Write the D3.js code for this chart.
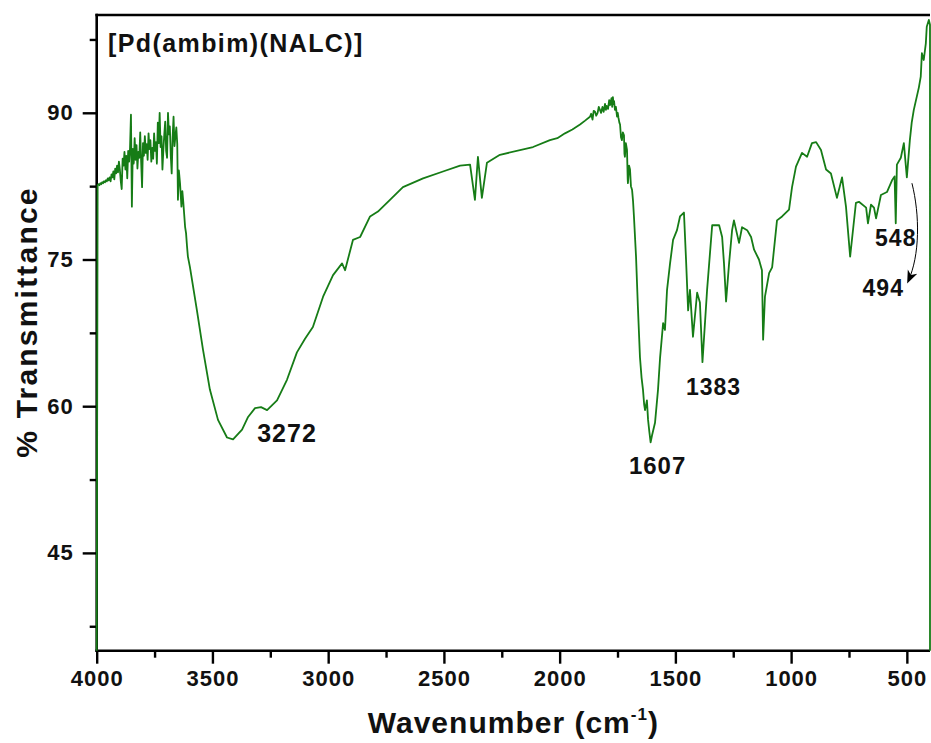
<!DOCTYPE html>
<html>
<head>
<meta charset="utf-8">
<script src="https://cdn.jsdelivr.net/npm/d3@7"></script>
<style>
  body { margin: 0; background: #fff; }
  svg { display: block; }
  text { font-family: "Liberation Sans", Arial, sans-serif; font-weight: bold; fill: #111; }
</style>
</head>
<body>
<svg id="chart" width="931" height="743"></svg>
<script>
// FT-IR spectrum of [Pd(ambim)(NALC)]: wavenumber (cm-1) vs % transmittance
const wavenumber = [
  4000, 3996, 3992, 3988, 3984, 3980, 3976, 3972, 3968, 3964, 3960, 3956, 3952, 3948, 3944, 3940,
  3936, 3932, 3928, 3924, 3920, 3916, 3912, 3908, 3904, 3900, 3896, 3892, 3888, 3884, 3880, 3876,
  3872, 3868, 3864, 3860, 3856, 3852, 3848, 3844, 3840, 3836, 3832, 3828, 3824, 3820, 3816, 3812,
  3808, 3804, 3800, 3796, 3792, 3788, 3784, 3780, 3776, 3772, 3768, 3764, 3760, 3756, 3752, 3748,
  3744, 3740, 3736, 3732, 3728, 3724, 3720, 3716, 3712, 3708, 3704, 3700, 3696, 3692, 3688, 3684,
  3680, 3676, 3672, 3668, 3664, 3660, 3656, 3652, 3649, 3645, 3640, 3634, 3630, 3626, 3622, 3618,
  3614, 3610, 3606, 3602, 3597, 3567, 3541, 3511, 3476, 3437, 3411, 3372, 3346, 3316, 3290, 3264,
  3221, 3178, 3135, 3100, 3066, 3022, 2979, 2940, 2927, 2893, 2862, 2819, 2785, 2733, 2677, 2590,
  2504, 2430, 2387, 2366, 2353, 2336, 2314, 2258, 2115, 2042, 2010, 1977, 1945, 1912, 1890, 1869,
  1864, 1858, 1853, 1847, 1842, 1836, 1831, 1826, 1821, 1815, 1810, 1804, 1800, 1797, 1791, 1786,
  1782, 1776, 1773, 1770, 1767, 1765, 1761, 1757, 1752, 1749, 1746, 1742, 1739, 1735, 1731, 1727,
  1722, 1720, 1718, 1714, 1709, 1706, 1705, 1700, 1696, 1692, 1687, 1683, 1679, 1670, 1662, 1653,
  1646, 1640, 1635, 1631, 1623, 1618, 1612, 1607, 1601, 1588, 1575, 1566, 1553, 1545, 1536, 1523,
  1510, 1493, 1480, 1463, 1454, 1445, 1437, 1424, 1406, 1394, 1383, 1363, 1341, 1311, 1298, 1290,
  1281, 1268, 1255, 1247, 1225, 1212, 1190, 1173, 1160, 1139, 1126, 1121, 1113, 1095, 1082, 1061,
  1039, 1009, 996, 979, 953, 931, 910, 892, 871, 849, 828, 802, 780, 763, 745, 720,
  707, 676, 668, 655, 642, 633, 612, 586, 564, 553, 548, 543, 526, 513, 500, 487,
  479, 470, 448, 440, 435, 427, 418, 414, 405, 400, 400
];
const transmittance = [
  35.0, 82.6, 82.7, 82.6, 82.8, 82.7, 82.9, 82.8, 83.0, 82.9, 83.1, 83.0, 83.3, 83.1, 83.4, 83.0,
  83.7, 83.4, 84.0, 83.2, 84.3, 83.8, 84.6, 83.9, 85.0, 84.2, 83.0, 82.2, 85.3, 84.6, 86.0, 84.2,
  85.6, 83.3, 86.1, 85.0, 86.4, 89.8, 80.4, 86.3, 84.8, 87.4, 85.2, 86.7, 84.3, 86.0, 85.4, 88.0,
  85.0, 82.4, 86.9, 85.6, 87.6, 85.9, 86.8, 85.2, 87.9, 86.3, 87.2, 85.0, 86.4, 85.3, 87.9, 86.1,
  87.0, 84.8, 89.0, 86.9, 90.0, 86.5, 87.6, 84.2, 86.2, 87.8, 89.1, 86.1, 85.4, 90.0, 87.8, 88.6,
  85.6, 83.8, 87.5, 89.6, 86.6, 87.6, 88.5, 86.8, 81.1, 84.1, 82.8, 80.4, 82.0, 80.9, 79.6, 78.3,
  77.7, 76.4, 75.3, 74.8, 74.2, 69.8, 65.8, 61.7, 58.6, 56.8, 56.6, 57.6, 58.9, 59.8, 59.9, 59.6,
  60.6, 62.7, 65.5, 66.9, 68.1, 71.2, 73.4, 74.6, 73.9, 77.0, 77.3, 79.4, 79.9, 81.1, 82.4, 83.3,
  84.0, 84.6, 84.7, 81.1, 85.5, 81.3, 84.9, 85.7, 86.5, 87.2, 87.4, 87.9, 88.3, 88.8, 89.2, 89.6,
  89.9, 89.3, 90.2, 90.1, 89.7, 90.0, 90.6, 90.3, 90.0, 90.6, 90.1, 90.9, 90.3, 90.7, 90.4, 91.3,
  90.8, 91.5, 90.6, 91.6, 90.9, 91.2, 90.3, 90.6, 89.6, 90.0, 89.5, 89.0, 88.8, 87.5, 87.2, 88.0,
  87.7, 85.8, 85.5, 86.9, 86.2, 83.2, 82.8, 84.6, 84.2, 82.5, 82.1, 81.0, 79.4, 75.3, 70.2, 65.0,
  62.9, 61.7, 60.2, 59.6, 60.6, 58.6, 57.3, 56.3, 57.0, 58.3, 61.7, 65.0, 68.5, 67.8, 71.9, 74.6,
  77.0, 78.0, 79.4, 79.8, 75.0, 69.8, 71.9, 67.1, 71.6, 70.6, 64.5, 71.9, 78.5, 78.5, 77.3, 74.6,
  70.7, 74.6, 78.0, 79.0, 76.7, 78.3, 78.0, 77.3, 76.0, 75.0, 73.9, 66.8, 71.2, 73.6, 74.2, 79.0,
  79.4, 80.1, 82.4, 84.5, 85.9, 85.5, 86.9, 87.0, 86.2, 84.2, 83.8, 81.3, 83.4, 80.4, 75.3, 80.8,
  80.9, 80.3, 78.7, 80.6, 80.3, 79.2, 81.6, 81.9, 83.1, 83.5, 78.7, 84.7, 85.4, 86.9, 83.4, 87.2,
  89.0, 90.3, 92.6, 93.7, 96.1, 95.4, 97.1, 98.8, 99.5, 99.0, 35.0
];

const xMajorTicks = [4000, 3500, 3000, 2500, 2000, 1500, 1000, 500];
const xMinorTicks = [3750, 3250, 2750, 2250, 1750, 1250, 750];
const yMajorTicks = [45, 60, 75, 90];
const yMinorTicks = [37.5, 52.5, 67.5, 82.5, 97.5];

const peakLabels = ["3272", "1607", "1383", "548", "494"];
const peakWavenumbers = [3272, 1607, 1383, 548, 494];
const peakTransmittance = [59.6, 56.3, 64.5, 78.7, 85.0];

const titleText = "[Pd(ambim)(NALC)]";
const xTitle = "Wavenumber (cm";
const yTitle = "% Transmittance";

const svg = d3.select("#chart");
const plotLeft = 96.7, plotRight = 930, plotTop = 15, plotBottom = 650.7;

const x = d3.scaleLinear().domain([4000, 400]).range([plotLeft, plotRight]);
const y = d3.scaleLinear().domain([35, 100]).range([plotBottom, plotTop]);

const lineColor = "#167c16";

// frame: left, bottom and top edges
const frame = svg.append("g").attr("stroke", "#000").attr("stroke-width", 2.6).attr("fill", "none");
frame.append("line").attr("x1", plotLeft).attr("x2", plotLeft).attr("y1", plotTop - 1.3).attr("y2", plotBottom + 1.3);
frame.append("line").attr("x1", plotLeft - 1.3).attr("x2", plotRight).attr("y1", plotBottom).attr("y2", plotBottom);
frame.append("line").attr("x1", plotLeft - 1.3).attr("x2", plotRight).attr("y1", plotTop).attr("y2", plotTop);

// x axis ticks
const xAxis = svg.append("g").attr("transform", `translate(0,${plotBottom})`)
  .call(d3.axisBottom(x).tickValues(xMajorTicks).tickSize(13).tickPadding(7).tickFormat(d3.format("d")));
xAxis.select(".domain").remove();
xAxis.selectAll(".tick line").attr("stroke", "#000").attr("stroke-width", 2.4);
xAxis.selectAll(".tick text").attr("font-size", 22).attr("letter-spacing", 1).attr("fill", "#111")
  .attr("font-family", '"Liberation Sans", Arial, sans-serif').attr("font-weight", "bold");

const xMinor = svg.append("g").attr("transform", `translate(0,${plotBottom})`)
  .call(d3.axisBottom(x).tickValues(xMinorTicks).tickSize(7).tickFormat(""));
xMinor.select(".domain").remove();
xMinor.selectAll(".tick line").attr("stroke", "#000").attr("stroke-width", 2.4);

// y axis ticks
const yAxis = svg.append("g").attr("transform", `translate(${plotLeft},0)`)
  .call(d3.axisLeft(y).tickValues(yMajorTicks).tickSize(14).tickPadding(9).tickFormat(d3.format("d")));
yAxis.select(".domain").remove();
yAxis.selectAll(".tick line").attr("stroke", "#000").attr("stroke-width", 2.4);
yAxis.selectAll(".tick text").attr("font-size", 22).attr("letter-spacing", 1).attr("fill", "#111")
  .attr("font-family", '"Liberation Sans", Arial, sans-serif').attr("font-weight", "bold");

const yMinor = svg.append("g").attr("transform", `translate(${plotLeft},0)`)
  .call(d3.axisLeft(y).tickValues(yMinorTicks).tickSize(7).tickFormat(""));
yMinor.select(".domain").remove();
yMinor.selectAll(".tick line").attr("stroke", "#000").attr("stroke-width", 2.4);

// spectrum trace
const points = wavenumber.map((w, i) => [w, transmittance[i]]);
svg.append("path")
  .datum(points)
  .attr("fill", "none")
  .attr("stroke", lineColor)
  .attr("stroke-width", 1.8)
  .attr("stroke-linejoin", "round")
  .attr("d", d3.line().x(d => x(d[0])).y(d => y(d[1])));

// compound name
svg.append("text")
  .attr("x", 108).attr("y", 52)
  .attr("font-size", 25).attr("letter-spacing", 1.4)
  .text(titleText);

// axis titles
const xt = svg.append("text")
  .attr("x", (plotLeft + plotRight) / 2).attr("y", 733)
  .attr("text-anchor", "middle")
  .attr("font-size", 30).attr("letter-spacing", 1);
xt.append("tspan").text(xTitle);
xt.append("tspan").attr("font-size", 17).attr("dy", -13).text("-1");
xt.append("tspan").attr("dy", 13).text(")");

svg.append("text")
  .attr("transform", "translate(37,322) rotate(-90)")
  .attr("text-anchor", "middle")
  .attr("font-size", 30).attr("letter-spacing", 2.2)
  .text(yTitle);

// peak annotations, offset from each band position
const labelOffsets = [
  { dx: -8, dy: 32, size: 25, anchor: "start" },
  { dx: 7, dy: 32, size: 24, anchor: "middle" },
  { dx: 11, dy: 33, size: 23, anchor: "middle" },
  { dx: 0, dy: 23, size: 23, anchor: "middle" },
  { dx: -25, dy: 134, size: 23, anchor: "middle" }
];
peakLabels.forEach((label, i) => {
  const o = labelOffsets[i];
  svg.append("text")
    .attr("x", x(peakWavenumbers[i]) + o.dx)
    .attr("y", y(peakTransmittance[i]) + o.dy)
    .attr("text-anchor", o.anchor)
    .attr("font-size", o.size).attr("letter-spacing", 1)
    .text(label);
});

// curved pointer towards the 494 band label
svg.append("defs").append("marker")
  .attr("id", "head").attr("viewBox", "0 0 10 10")
  .attr("refX", 8).attr("refY", 5)
  .attr("markerWidth", 13).attr("markerHeight", 13)
  .attr("markerUnits", "userSpaceOnUse")
  .attr("orient", "auto")
  .append("path").attr("d", "M0,1 L10,5 L0,9 L3,5 Z").attr("fill", "#000");

const ax0 = x(478), ay0 = y(82.8), ax1 = x(494), ay1 = y(72.8);
svg.append("path")
  .attr("d", `M${ax0},${ay0} C${ax0 + 8},${ay0 + 32} ${ax0 + 8},${ay0 + 72} ${ax1},${ay1}`)
  .attr("fill", "none").attr("stroke", "#000").attr("stroke-width", 1)
  .attr("marker-end", "url(#head)");
</script>
</body>
</html>
